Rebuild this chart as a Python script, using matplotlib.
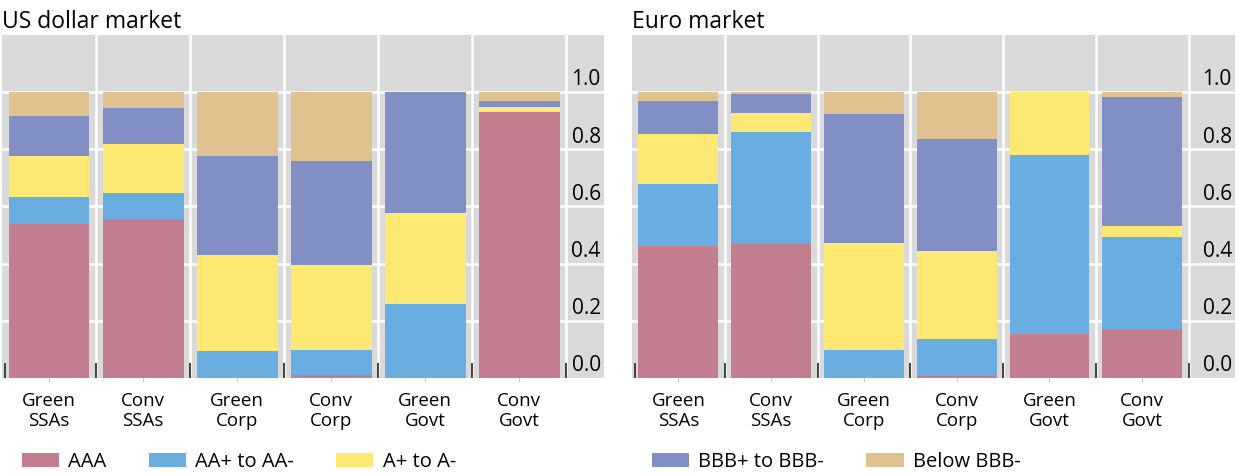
import numpy as np
import matplotlib
matplotlib.use("Agg")
from matplotlib import pyplot as plt

plt.rcParams['font.family'] = ['Open Sans', 'DejaVu Sans']

categories = ['Green\nSSAs', 'Conv\nSSAs', 'Green\nCorp', 'Conv\nCorp', 'Green\nGovt', 'Conv\nGovt']
ratings = ['AAA', 'AA+ to AA-', 'A+ to A-', 'BBB+ to BBB-', 'Below BBB-']
colors = ['#C27E8F', '#6AADE0', '#FFE974', '#818FC5', '#E0C291']

# US dollar market shares per rating bucket
usd_aaa = [0.540, 0.557, 0.000, 0.010, 0.000, 0.930]
usd_aa = [0.094, 0.091, 0.094, 0.088, 0.258, 0.000]
usd_a = [0.143, 0.171, 0.335, 0.296, 0.320, 0.018]
usd_bbb = [0.139, 0.125, 0.348, 0.366, 0.422, 0.022]
usd_below = [0.084, 0.056, 0.223, 0.240, 0.000, 0.030]

# Euro market shares per rating bucket
eur_aaa = [0.463, 0.470, 0.000, 0.008, 0.154, 0.168]
eur_aa = [0.217, 0.391, 0.098, 0.128, 0.626, 0.324]
eur_a = [0.174, 0.066, 0.376, 0.310, 0.220, 0.041]
eur_bbb = [0.116, 0.066, 0.449, 0.391, 0.000, 0.450]
eur_below = [0.030, 0.007, 0.077, 0.163, 0.000, 0.017]

yticks = [0.0, 0.2, 0.4, 0.6, 0.8, 1.0]

fig = plt.figure(figsize=(12.36, 4.74), dpi=100)
ax1 = fig.add_axes([2/1236, 96/474, 602/1236, 343/474])
ax2 = fig.add_axes([632/1236, 96/474, 603/1236, 343/474])


def draw(ax, series, title, xmax):
    x = np.arange(len(categories))
    ax.set_facecolor('#D9D9D9')
    bottom = np.zeros(len(categories))
    handles = []
    for vals, c, lab in zip(series, colors, ratings):
        b = ax.bar(x, vals, width=0.86, bottom=bottom, color=c, label=lab, zorder=3)
        handles.append(b)
        bottom += np.array(vals)
    ax.set_xlim(-0.5, xmax)
    ax.set_ylim(0, 1.2)
    for s in ax.spines.values():
        s.set_visible(False)
    # white grid
    for v in yticks[1:]:
        ax.axhline(v, color='white', lw=1.8, zorder=1)
    for xv in np.arange(0.5, 6, 1.0):
        ax.axvline(xv, color='white', lw=1.8, zorder=1)
    ax.set_xticks(x)
    ax.set_xticklabels(categories, fontsize=13.5, linespacing=1.15)
    ax.tick_params(axis='x', length=3, color='#CCCCCC', pad=7)
    seps = np.arange(-0.5, 6, 1.0)
    seps[0] = -0.47
    ax.set_xticks(seps, minor=True)
    ax.tick_params(axis='x', which='minor', direction='in', length=11, width=1.3, color='#333333')
    ax.set_yticks([])
    for v in yticks:
        ax.text(xmax - 0.035, v + 0.006, f'{v:.1f}', ha='right', va='bottom', fontsize=15, zorder=4)
    ax.set_title(title, loc='left', fontsize=16.5, pad=5, x=0.0)
    return handles


h1 = draw(ax1, [usd_aaa, usd_aa, usd_a, usd_bbb, usd_below], 'US dollar market', 5.9)
h2 = draw(ax2, [eur_aaa, eur_aa, eur_a, eur_bbb, eur_below], 'Euro market', 6.0)

leg_kw = dict(frameon=False, fontsize=14.5, handlelength=1.85, handleheight=0.75,
              columnspacing=2.1, borderaxespad=0, borderpad=0, handletextpad=0.45)
fig.legend(h1[:3], ratings[:3], loc='center left', bbox_to_anchor=(22/1236, 12/474),
           ncol=3, **leg_kw)
fig.legend(h2[3:], ratings[3:], loc='center left', bbox_to_anchor=(652/1236, 12/474),
           ncol=2, **leg_kw)

fig.savefig('out.png', dpi=100)
